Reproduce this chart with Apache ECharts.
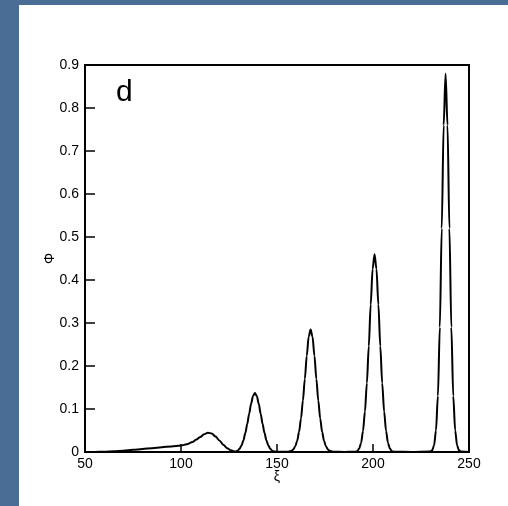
<!DOCTYPE html>
<html>
<head>
<meta charset="utf-8">
<script src="https://cdn.jsdelivr.net/npm/echarts@6/dist/echarts.min.js"></script>
<style>
  html, body { margin: 0; padding: 0; background: #4a6d95; }
  #chart { width: 508px; height: 506px; }
</style>
</head>
<body>
<div id="chart"></div>
<script>
  // [xi, phi] pairs, segment by segment
  const tail = [[50, 0], [55, 0.0002], [60, 0.0006], [65, 0.0015], [70, 0.003], [75, 0.005], [80, 0.007],
    [85, 0.009], [90, 0.011], [95, 0.013], [100, 0.015], [103, 0.018]];
  const bump1 = [[106, 0.023], [108, 0.029], [110, 0.035], [112, 0.041], [114, 0.045], [116, 0.043],
    [118, 0.036], [120, 0.027], [122, 0.017], [124, 0.009], [126, 0.004], [127.5, 0.002]];
  const peak2 = [[128.5, 0.001], [129.5, 0.003], [130.5, 0.0075], [131.5, 0.015], [132.5, 0.027], [133.5, 0.044],
    [134.5, 0.065], [135.5, 0.089], [136.5, 0.112], [137.5, 0.13], [138.5, 0.137], [139.5, 0.13], [140.5, 0.112],
    [141.5, 0.089], [142.5, 0.065], [143.5, 0.044], [144.5, 0.027], [145.5, 0.015], [146.5, 0.0075],
    [147.5, 0.003], [148.5, 0.001], [152, 0.0003]];
  const peak3 = [[156, 0.0008], [157.5, 0.0025], [158.5, 0.006], [159.5, 0.013], [160.5, 0.026], [161.5, 0.047],
    [162.5, 0.078], [163.5, 0.12], [164.5, 0.17], [165.5, 0.224], [166.5, 0.268], [167.5, 0.285], [168.5, 0.268],
    [169.5, 0.224], [170.5, 0.17], [171.5, 0.12], [172.5, 0.078], [173.5, 0.047], [174.5, 0.026], [175.5, 0.013],
    [176.5, 0.006], [177.5, 0.0025], [179, 0.0008], [185, 0.0002]];
  const peak4 = [[190.8, 0.0005], [191.8, 0.002], [192.8, 0.008], [193.8, 0.021], [194.8, 0.049], [195.8, 0.094],
    [196.8, 0.16], [197.8, 0.246], [198.8, 0.343], [199.8, 0.426], [200.8, 0.46], [201.8, 0.426], [202.8, 0.343],
    [203.8, 0.246], [204.8, 0.16], [205.8, 0.094], [206.8, 0.049], [207.8, 0.021], [208.8, 0.008], [209.8, 0.002],
    [210.8, 0.0005], [220, 0.0002]];
  const peak5 = [[229.8, 0.001], [230.8, 0.004], [231.8, 0.015], [232.8, 0.05], [233.8, 0.13], [234.8, 0.29],
    [235.8, 0.52], [236.8, 0.76], [237.8, 0.88], [238.8, 0.76], [239.8, 0.52], [240.8, 0.29], [241.8, 0.13],
    [242.8, 0.05], [243.8, 0.015], [244.8, 0.004], [245.8, 0.001], [250, 0]];

  const curve = [].concat(tail, bump1, peak2, peak3, peak4, peak5);

  const chart = echarts.init(document.getElementById("chart"));
  const font = "Liberation Sans, Arial, sans-serif";

  chart.setOption({
    backgroundColor: "#4a6d95",
    animation: false,
    graphic: [
      { type: "rect", z: -10, shape: { x: 19, y: 5, width: 489, height: 501 }, style: { fill: "#ffffff" } },
      { type: "text", left: 116, top: 78, style: { text: "d", font: "30px " + font, fill: "#000" } },
    ],
    grid: {
      left: 85, right: 39, top: 65, bottom: 54,
      show: true, borderColor: "#000", borderWidth: 2, backgroundColor: "transparent",
    },
    xAxis: {
      type: "value", min: 50, max: 250, interval: 50,
      name: "ξ", nameLocation: "middle", nameGap: 18, nameMoveOverlap: false,
      nameTextStyle: { color: "#000", fontSize: 14, fontFamily: font },
      axisLine: { show: true, lineStyle: { color: "#000", width: 2 } },
      axisTick: { show: true, inside: true, length: 8, lineStyle: { color: "#000", width: 1.5 } },
      axisLabel: { color: "#000", fontSize: 14, fontFamily: font, margin: 5 },
      splitLine: { show: false },
    },
    yAxis: {
      type: "value", min: 0, max: 0.9, interval: 0.1,
      name: "Φ", nameLocation: "middle", nameGap: 28, nameMoveOverlap: false,
      nameTextStyle: { color: "#000", fontSize: 14, fontFamily: font },
      axisLine: { show: true, lineStyle: { color: "#000", width: 2 } },
      axisTick: { show: true, inside: true, length: 10, lineStyle: { color: "#000", width: 1.5 } },
      axisLabel: {
        color: "#000", fontSize: 14, fontFamily: font, margin: 6,
        formatter: (v) => (v === 0 ? "0" : v.toFixed(1)),
      },
      splitLine: { show: false },
    },
    series: [
      {
        type: "line",
        data: curve,
        showSymbol: false,
        smooth: 0.3,
        smoothMonotone: "x",
        lineStyle: { color: "#000", width: 2 },
      },
    ],
  });
</script>
</body>
</html>
